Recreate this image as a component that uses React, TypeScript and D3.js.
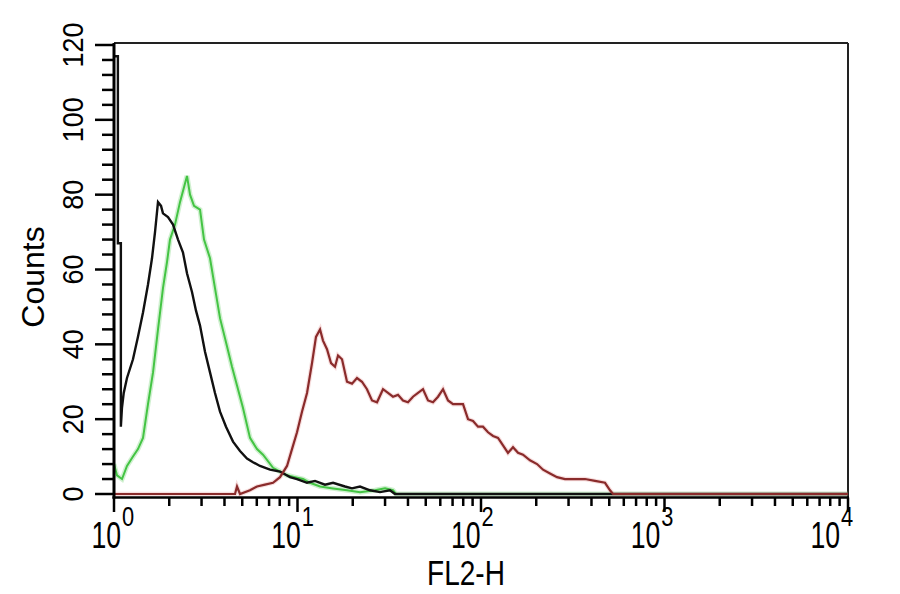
import React from "react";
import * as d3 from "d3";

// ---- data (FL2-H value, counts) ----
const blackFL2 = [1.0, 1.05, 1.05, 1.09, 1.09, 1.105, 1.13, 1.177, 1.269, 1.351, 1.439, 1.532, 1.611, 1.673, 1.737, 1.804, 1.849, 1.969, 2.097, 2.233, 2.377, 2.499, 2.661, 2.798, 2.943, 3.133, 3.336, 3.551, 3.782, 4.077, 4.452, 4.861, 5.306, 5.722, 6.247, 7.084, 8.029, 9.1, 9.94, 11.27, 12.46, 14.12, 15.62, 18.15, 19.82, 21.91, 24.84, 28.16, 31.92, 33.99, 10000];
const blackCounts = [117, 117, 67, 67, 18, 23, 27, 31, 36, 42, 48.5, 56, 63, 70, 78, 77, 75, 74, 72, 68, 64.5, 59, 54, 49, 45, 38, 32.5, 27, 22, 18, 14, 11.5, 9.5, 8.5, 7.5, 6.5, 6, 4.5, 4, 3, 3.5, 2.5, 3, 2, 1.5, 2, 1, 0.5, 1, 0, 0];

const greenFL2 = [1.0, 1.038, 1.106, 1.177, 1.269, 1.351, 1.439, 1.532, 1.632, 1.737, 1.849, 1.945, 2.019, 2.15, 2.289, 2.407, 2.499, 2.596, 2.729, 2.943, 3.094, 3.336, 3.551, 3.782, 4.128, 4.396, 4.681, 5.047, 5.51, 6.016, 6.486, 7.355, 8.029, 8.767, 9.69, 10.72, 11.7, 13.27, 15.62, 18.61, 21.91, 26.44, 29.99, 33.14, 34.43, 10000];
const greenCounts = [8, 5, 4, 7.5, 10, 12, 15, 24, 32.5, 44, 55, 62, 68, 72, 78, 82, 85, 80, 77, 76, 68, 63, 55, 47, 39.5, 34, 29, 23, 15, 12, 10.5, 7, 6, 5, 4.5, 4, 3, 2, 1.5, 1, 0.5, 1, 1.5, 1, 0, 0];

const redFL2 = [1.0, 4.565, 4.681, 4.861, 5.51, 6.016, 6.652, 7.355, 8.029, 8.767, 9.333, 9.94, 10.58, 11.27, 12.0, 12.61, 13.27, 13.77, 14.48, 15.23, 16.01, 16.63, 17.48, 18.61, 19.82, 21.1, 22.46, 23.91, 25.47, 27.12, 29.24, 31.13, 33.14, 35.29, 37.57, 40.01, 42.6, 45.37, 48.3, 51.43, 54.76, 58.31, 62.09, 66.11, 70.39, 79.8, 84.97, 90.45, 96.3, 102.5, 109.2, 116.3, 123.8, 131.8, 140.3, 149.4, 159.1, 169.4, 184.9, 202, 217.8, 237.7, 259.6, 287, 368.8, 418.1, 474, 504.7, 524.2, 10000];
const redCounts = [0, 0, 2, 0, 1, 2, 2.5, 3, 4.5, 7.5, 12, 16.5, 22, 27, 35, 42, 44, 41, 38.7, 35, 34, 37, 36, 30, 29.5, 31, 30, 28, 25, 24.5, 28, 27, 26, 26.5, 25, 24.5, 26, 27, 28, 25, 24.5, 26, 28, 25, 24, 24, 20, 19.5, 18, 18, 16.5, 15.5, 15, 13, 11, 12.5, 11, 10.5, 9, 8, 6.5, 5.5, 4.5, 4, 4, 3.5, 3, 1, 0, 0];

const xExponents = [0, 1, 2, 3, 4];
const yTickValues = [0, 20, 40, 60, 80, 100, 120];
const xLabel = "FL2-H";
const yLabel = "Counts";

const W = 900;
const H = 594;
const FONT = "'Liberation Sans', Arial, Helvetica, sans-serif";

export default function App() {
  const x = d3.scaleLog().domain([1, 10000]).range([114, 848]);
  const y = d3.scaleLinear().domain([0, 120]).range([494, 45]);
  const plotTop = 43;
  const axisY = 497.5;

  const line = d3
    .line<[number, number]>()
    .x((d) => x(d[0]))
    .y((d) => y(d[1]))
    .curve(d3.curveLinear);

  const pts = (xs: number[], ys: number[]) =>
    xs.map((v, i) => [v, ys[i]] as [number, number]);

  const minorY = d3.range(0, 121, 4).filter((v) => v % 20 !== 0);
  const minorX: number[] = [];
  for (let dd = 0; dd < 4; dd++)
    for (let k = 2; k <= 9; k++) minorX.push(k * Math.pow(10, dd));

  const green = "#44c444";
  const red = "#8a2b2b";

  return (
    <svg
      width={W}
      height={H}
      style={{ position: "absolute", left: 0, top: 0, background: "#fff" }}
    >
      <defs>
        <clipPath id="plot">
          <rect x={114} y={plotTop} width={734} height={axisY - plotTop} />
        </clipPath>
      </defs>
      <rect x={0} y={0} width={W} height={H} fill="#fff" />

      {/* frame top and right */}
      <line x1={114} y1={plotTop} x2={848} y2={plotTop} stroke="#222" strokeWidth={2} />
      <line x1={848} y1={plotTop} x2={848} y2={axisY} stroke="#222" strokeWidth={2} />

      {/* series */}
      <g clipPath="url(#plot)" fill="none" strokeLinejoin="miter">
        <path d={line(pts(greenFL2, greenCounts)) || ""} stroke={green} strokeOpacity={0.25} strokeWidth={5} />
        <path d={line(pts(redFL2, redCounts)) || ""} stroke="#e8a0a0" strokeOpacity={0.35} strokeWidth={4.5} />
        <path d={line(pts(greenFL2, greenCounts)) || ""} stroke={green} strokeWidth={2} />
        <path d={line(pts(blackFL2, blackCounts)) || ""} stroke="#111" strokeWidth={2.4} />
        <path d={line(pts(redFL2, redCounts)) || ""} stroke={red} strokeWidth={2.2} />
      </g>

      {/* y axis */}
      <line x1={114} y1={plotTop} x2={114} y2={axisY + 1} stroke="#000" strokeWidth={3} />
      {yTickValues.map((v) => (
        <line key={"ym" + v} x1={95} x2={114} y1={y(v)} y2={y(v)} stroke="#000" strokeWidth={2.5} />
      ))}
      {minorY.map((v) => (
        <line key={"yn" + v} x1={102} x2={114} y1={y(v)} y2={y(v)} stroke="#000" strokeWidth={2.5} />
      ))}
      {yTickValues.map((v) => (
        <text
          key={"yl" + v}
          transform={`translate(83,${y(v)}) rotate(-90) scale(0.9,1)`}
          textAnchor="middle"
          fontFamily={FONT}
          fontSize={30}
          fill="#000"
        >
          {v}
        </text>
      ))}
      <text
        transform="translate(44,277) rotate(-90)"
        textAnchor="middle"
        fontFamily={FONT}
        fontSize={32}
        fill="#000"
      >
        {yLabel}
      </text>

      {/* x axis */}
      <line x1={112.5} y1={axisY} x2={849} y2={axisY} stroke="#000" strokeWidth={2.5} />
      {xExponents.map((e) => (
        <line key={"xm" + e} x1={x(Math.pow(10, e))} x2={x(Math.pow(10, e))} y1={axisY} y2={512} stroke="#000" strokeWidth={2.5} />
      ))}
      {minorX.map((v) => (
        <line key={"xn" + v} x1={x(v)} x2={x(v)} y1={axisY} y2={506} stroke="#000" strokeWidth={2.5} />
      ))}
      {xExponents.map((e, i) => {
        const lx = x(Math.pow(10, e)) + 7 - 3.75 * i;
        return (
          <g key={"xl" + e} fontFamily={FONT} fill="#000">
            <text transform={`translate(${lx},548) scale(0.72,1)`} textAnchor="end" fontSize={37}>
              10
            </text>
            <text transform={`translate(${lx + 1},526) scale(0.78,1)`} textAnchor="start" fontSize={28}>
              {e}
            </text>
          </g>
        );
      })}
      <text
        transform="translate(466,585) scale(0.8,1)"
        textAnchor="middle"
        fontFamily={FONT}
        fontSize={35}
        fill="#000"
      >
        {xLabel}
      </text>
    </svg>
  );
}
